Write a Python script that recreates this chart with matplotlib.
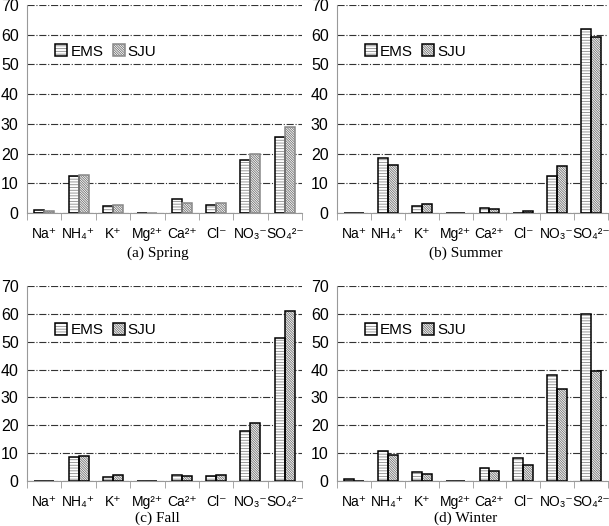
import numpy as np
import matplotlib.pyplot as plt

plt.rcParams['font.family'] = ['Liberation Sans', 'DejaVu Sans']
plt.rcParams['hatch.linewidth'] = 0.6

ions = ['Na⁺', 'NH₄⁺', 'K⁺', 'Mg²⁺', 'Ca²⁺', 'Cl⁻', 'NO₃⁻', 'SO₄²⁻']

spring_ems = [1.0, 12.3, 2.3, 0.1, 4.8, 2.7, 17.8, 25.7]
spring_sju = [0.8, 12.8, 2.8, 0.1, 3.3, 3.3, 19.8, 28.9]
summer_ems = [0.1, 18.4, 2.2, 0.1, 1.6, 0.1, 12.6, 62.0]
summer_sju = [0.1, 16.2, 2.9, 0.1, 1.3, 0.6, 15.9, 59.3]
fall_ems = [0.1, 8.5, 1.5, 0.1, 2.1, 1.8, 17.9, 51.3]
fall_sju = [0.1, 9.0, 2.2, 0.1, 1.8, 2.2, 20.9, 61.0]
winter_ems = [0.8, 10.8, 3.2, 0.1, 4.6, 8.4, 38.2, 59.8]
winter_sju = [0.1, 9.2, 2.6, 0.1, 3.7, 5.8, 32.9, 39.5]

captions = ['(a) Spring', '(b) Summer', '(c) Fall', '(d) Winter']

fig = plt.figure(figsize=(6.09, 5.26), dpi=100)

# [left, bottom, width, height] in figure fractions
boxes = [
    [27 / 609, 1 - 213 / 526, 275 / 609, 208 / 526],
    [337 / 609, 1 - 213 / 526, 271 / 609, 208 / 526],
    [27 / 609, 1 - 481 / 526, 275 / 609, 195 / 526],
    [337 / 609, 1 - 481 / 526, 271 / 609, 195 / 526],
]
cap_gap = [40, 40, 37, 37]
data = [(spring_ems, spring_sju), (summer_ems, summer_sju),
        (fall_ems, fall_sju), (winter_ems, winter_sju)]

x = np.arange(len(ions))
w = 0.29

for i, (box, (ems, sju)) in enumerate(zip(boxes, data)):
    ax = fig.add_axes(box)
    sju_edge = '#888888' if i == 0 else 'black'
    # hatch layer, then outline on top
    h1 = ax.bar(x - w / 2, ems, w, color='white', edgecolor='#8a8a8a', hatch='------',
                linewidth=0, zorder=3)
    o1 = ax.bar(x - w / 2, ems, w, fill=False, edgecolor='black', linewidth=1.1, zorder=4)
    h2 = ax.bar(x + w / 2, sju, w, color='white', edgecolor='#707070',
                hatch='\\' * 14, linewidth=0, zorder=3)
    o2 = ax.bar(x + w / 2, sju, w, fill=False, edgecolor=sju_edge, linewidth=1.1, zorder=4)
    ax.set_xlim(-0.5, len(ions) - 0.5)
    ax.set_ylim(0, 70)
    ax.set_yticks(range(0, 71, 10))
    ax.grid(axis='y', linestyle='-.', color='#333333', linewidth=0.8, zorder=0)
    for s in ['top', 'right']:
        ax.spines[s].set_visible(False)
    ax.spines['left'].set_color('#999999')
    ax.spines['bottom'].set_color('#999999')
    ax.set_xticks(x)
    ax.set_xticklabels(ions, fontsize=10)
    ax.tick_params(axis='x', length=0, pad=10)
    ax.set_xticks(np.arange(-0.5, len(ions), 1), minor=True)
    ax.tick_params(axis='x', which='minor', length=5, color='#999999')
    ax.tick_params(axis='y', length=0, labelsize=11.5, pad=6)
    ax.legend([(h1[0], o1[0]), (h2[0], o2[0])], ['EMS', 'SJU'],
              loc='upper left', bbox_to_anchor=(0.08, 0.84), ncol=2, frameon=False,
              fontsize=11, handlelength=0.8, handleheight=0.8, handletextpad=0.2,
              columnspacing=0.6, borderaxespad=0)
    cx = box[0] + box[2] / 2 - 7 / 609
    cy = box[1] - cap_gap[i] / 526
    fig.text(cx, cy, captions[i], ha='center', va='center', fontsize=11,
             family='Liberation Serif')

fig.savefig('out.png', dpi=100)
